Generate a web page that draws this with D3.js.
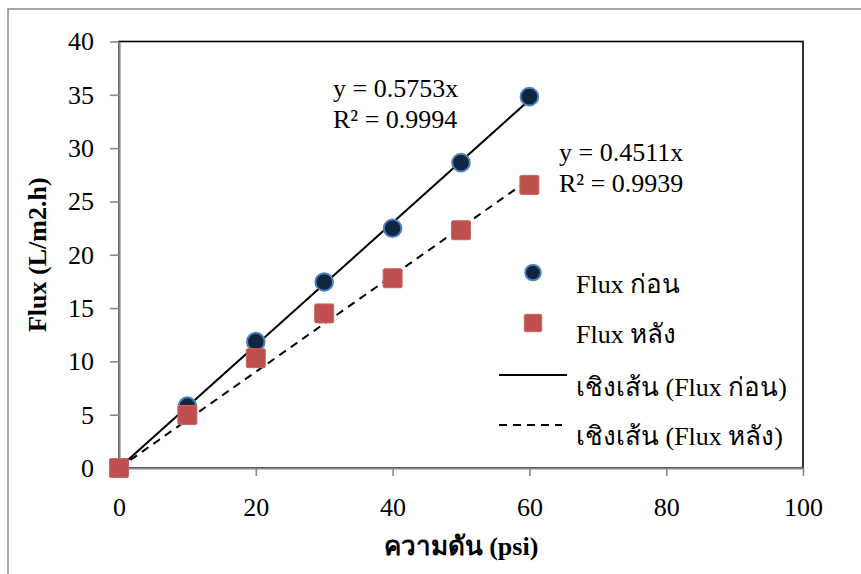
<!DOCTYPE html>
<html>
<head>
<meta charset="utf-8">
<script src="https://cdn.jsdelivr.net/npm/d3@7"></script>
<style>
  html, body { margin: 0; padding: 0; background: #fff; }
  svg { display: block; }
  text { font-family: "Liberation Serif", "Times New Roman", serif; fill: #000; }
</style>
</head>
<body>
<svg id="chart" width="861" height="574"></svg>
<script>
// Pressure (psi) on the x axis
const pressure = [0, 10, 20, 30, 40, 50, 60];
// Flux before and after (L/m2.h)
const fluxBefore = [0, 5.8, 11.85, 17.45, 22.48, 28.64, 34.83];
const fluxAfter = [0, 4.97, 10.3, 14.5, 17.8, 22.3, 26.55];
// Linear trendlines through the origin
const slopeBefore = 0.5753, r2Before = 0.9994;
const slopeAfter = 0.4511, r2After = 0.9939;
const trendRange = [0, 60];
// Axis ticks
const xTicks = [0, 20, 40, 60, 80, 100];
const yTicks = [0, 5, 10, 15, 20, 25, 30, 35, 40];
// Labels
const xTitle = "ความดัน (psi)";
const yTitle = "Flux (L/m2.h)";
const legendLabels = ["Flux ก่อน", "Flux หลัง", "เชิงเส้น (Flux ก่อน)", "เชิงเส้น (Flux หลัง)"];

const svg = d3.select("#chart");
const FS = 26;
const axisGray = "#898989";
const navy = "#10253f", navyEdge = "#4f81bd", red = "#c0504d";

// outer chart frame
svg.append("rect")
  .attr("x", 8).attr("y", 9).attr("width", 870).attr("height", 580)
  .attr("fill", "#fff").attr("stroke", "#8c8c8c").attr("stroke-width", 1.5);

const x = d3.scaleLinear().domain([0, 100]).range([119, 803]);
const y = d3.scaleLinear().domain([0, 40]).range([468, 41.5]);

// plot area border
svg.append("rect")
  .attr("x", x(0)).attr("y", y(40))
  .attr("width", x(100) - x(0)).attr("height", y(0) - y(40))
  .attr("fill", "none").attr("stroke", "#000").attr("stroke-width", 1.6);

// axes
const yAxis = svg.append("g").attr("transform", `translate(${x(0)},0)`)
  .call(d3.axisLeft(y).tickValues(yTicks).tickSize(9).tickPadding(16).tickSizeOuter(0));
const xAxis = svg.append("g").attr("transform", `translate(0,${y(0)})`)
  .call(d3.axisBottom(x).tickValues(xTicks).tickSize(8).tickPadding(22).tickSizeOuter(0));
[xAxis, yAxis].forEach(g => {
  g.selectAll("path.domain").attr("stroke", axisGray).attr("stroke-width", 2.2);
  g.selectAll(".tick line").attr("stroke", axisGray).attr("stroke-width", 1.6);
  g.selectAll(".tick text")
    .style("font-family", '"Liberation Serif", "Times New Roman", serif')
    .attr("font-size", FS).attr("fill", "#000");
});

// axis titles
svg.append("text")
  .attr("x", (x(0) + x(100)) / 2).attr("y", 555)
  .attr("text-anchor", "middle").attr("font-size", FS).attr("font-weight", "bold")
  .text(xTitle);
svg.append("text")
  .attr("transform", `translate(46,${(y(0) + y(40)) / 2}) rotate(-90)`)
  .attr("text-anchor", "middle").attr("font-size", FS).attr("font-weight", "bold")
  .text(yTitle);

// trendlines
const line = d3.line().x(d => x(d[0])).y(d => y(d[1]));
svg.append("path")
  .datum(trendRange.map(v => [v, slopeBefore * v]))
  .attr("d", line).attr("fill", "none").attr("stroke", "#000").attr("stroke-width", 2);
svg.append("path")
  .datum(trendRange.map(v => [v, slopeAfter * v]))
  .attr("d", line).attr("fill", "none").attr("stroke", "#000").attr("stroke-width", 2)
  .attr("stroke-dasharray", "8,6");

// markers: before (circles), after (squares)
const ptsBefore = pressure.map((p, i) => [p, fluxBefore[i]]);
const ptsAfter = pressure.map((p, i) => [p, fluxAfter[i]]);
svg.append("g").selectAll("circle").data(ptsBefore).join("circle")
  .attr("cx", d => x(d[0])).attr("cy", d => y(d[1])).attr("r", 8.8)
  .attr("fill", navy).attr("stroke", navyEdge).attr("stroke-width", 2);
const sq = 19;
svg.append("g").selectAll("rect").data(ptsAfter).join("rect")
  .attr("x", d => x(d[0]) - sq / 2).attr("y", d => y(d[1]) - sq / 2)
  .attr("width", sq).attr("height", sq).attr("rx", 1.5)
  .attr("fill", red).attr("stroke", "#c96563").attr("stroke-width", 1);

// trendline equations
function eq(x0, y0, slope, r2) {
  const t = svg.append("text").attr("font-size", FS);
  t.append("tspan").attr("x", x0).attr("y", y0).text(`y = ${slope}x`);
  t.append("tspan").attr("x", x0).attr("y", y0 + 31).text(`R² = ${r2}`);
}
eq(333, 97, slopeBefore, r2Before);
eq(559, 161, slopeAfter, r2After);

// legend
const lg = svg.append("g");
const lgX = 576, lgBase = [293, 343, 395.5, 445];
lg.append("circle").attr("cx", 533).attr("cy", lgBase[0] - 20.5).attr("r", 7.8)
  .attr("fill", navy).attr("stroke", navyEdge).attr("stroke-width", 2);
lg.append("rect").attr("x", 533 - 8.7).attr("y", lgBase[1] - 20 - 8.7)
  .attr("width", 17.4).attr("height", 17.4).attr("rx", 1.5)
  .attr("fill", red).attr("stroke", "#c96563").attr("stroke-width", 1);
lg.append("line").attr("x1", 499).attr("x2", 567)
  .attr("y1", lgBase[2] - 20.5).attr("y2", lgBase[2] - 20.5)
  .attr("stroke", "#000").attr("stroke-width", 2);
lg.append("line").attr("x1", 499).attr("x2", 562)
  .attr("y1", lgBase[3] - 20).attr("y2", lgBase[3] - 20)
  .attr("stroke", "#000").attr("stroke-width", 2).attr("stroke-dasharray", "8,6");
lg.selectAll("text.lab").data(legendLabels).join("text").attr("class", "lab")
  .attr("x", lgX).attr("y", (d, i) => lgBase[i]).attr("font-size", FS)
  .text(d => d);
</script>
</body>
</html>
